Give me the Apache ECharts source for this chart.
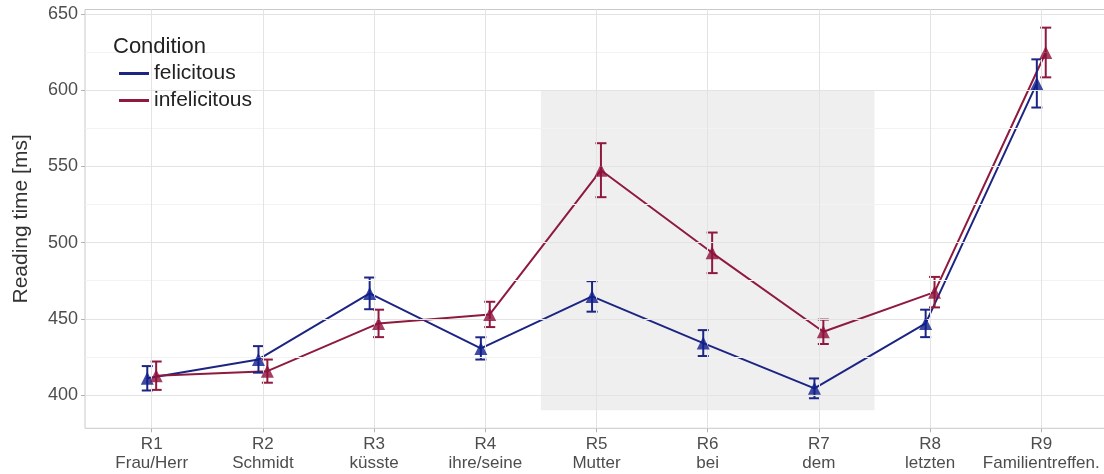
<!DOCTYPE html>
<html>
<head>
<meta charset="utf-8">
<script src="https://cdn.jsdelivr.net/npm/echarts@6/dist/echarts.min.js"></script>
<style>html,body{margin:0;padding:0;background:#fff}#c{width:1104px;height:474px}</style>
</head>
<body>
<div id="c"></div>
<script>
const regions = ['R1','R2','R3','R4','R5','R6','R7','R8','R9'];
const words = ['Frau/Herr','Schmidt','küsste','ihre/seine','Mutter','bei','dem','letzten','Familientreffen.'];
const felicitousMean = [411, 423.4, 466.7, 430.6, 464.7, 434.1, 404.4, 447, 604.4];
const felicitousSE = [8, 8.7, 10.4, 7.3, 10, 8.5, 6.5, 9, 15.8];
const infelicitousMean = [412.7, 415.7, 447, 452.9, 547.5, 493.3, 441.5, 467.5, 624.7];
const infelicitousSE = [9.3, 7.6, 9, 8.3, 17.7, 13.3, 8, 10, 16.3];
const yTicks = [400, 450, 500, 550, 600, 650];
const yMinor = [425, 475, 525, 575, 625];
const xTicks = [1, 2, 3, 4, 5, 6, 7, 8, 9];
const highlight = {x0: 4.5, x1: 7.5, y0: 390, y1: 600};

const dodge = 0.04;
const BLUE = '#1c2583';
const RED = '#8e1a3d';
const FONT = '"Liberation Sans", Arial, sans-serif';

function pts(means, off) { return means.map((m, i) => [xTicks[i] + off, m]); }
function bars(means, se, off) { return means.map((m, i) => [xTicks[i] + off, m - se[i], m + se[i]]); }

function errRender(color) {
  return function (params, api) {
    const x = api.value(0);
    const lo = api.coord([x, api.value(1)]);
    const hi = api.coord([x, api.value(2)]);
    const w = 5.5;
    const st = {stroke: color, lineWidth: 2};
    return {type: 'group', children: [
      {type: 'line', shape: {x1: lo[0], y1: lo[1], x2: hi[0], y2: hi[1]}, style: st},
      {type: 'line', shape: {x1: lo[0] - w, y1: lo[1], x2: lo[0] + w, y2: lo[1]}, style: st},
      {type: 'line', shape: {x1: hi[0] - w, y1: hi[1], x2: hi[0] + w, y2: hi[1]}, style: st}
    ]};
  };
}

const gridLineData = []
  .concat(yMinor.map(v => ({yAxis: v, lineStyle: {color: '#f3f3f3', width: 1, type: 'solid'}})))
  .concat(yTicks.map(v => ({yAxis: v, lineStyle: {color: '#e3e3e3', width: 1, type: 'solid'}})))
  .concat(xTicks.map(v => ({xAxis: v, lineStyle: {color: '#e3e3e3', width: 1, type: 'solid'}})));

const chart = echarts.init(document.getElementById('c'), null, {renderer: 'canvas'});
chart.setOption({
  animation: false,
  backgroundColor: '#ffffff',
  textStyle: {fontFamily: FONT},
  title: {text: 'Condition', left: 108, top: 31,
    textStyle: {fontFamily: FONT, fontSize: 22, fontWeight: 'normal', color: '#222'}},
  legend: {
    data: ['felicitous', 'infelicitous'],
    orient: 'vertical', left: 114, top: 58, itemGap: 6,
    icon: 'rect', itemWidth: 30, itemHeight: 3, itemTextGap: 10,
    textStyle: {fontFamily: FONT, fontSize: 21, color: '#222'}
  },
  grid: {left: 85, width: 1023, top: 9.5, bottom: 45.7, show: true,
    outerBoundsMode: 'none', containLabel: false,
    borderColor: '#c9c9c9', borderWidth: 1, backgroundColor: '#fff'},
  xAxis: {
    type: 'value', min: 0.4, max: 9.6,
    axisLine: {show: false},
    splitLine: {show: false},
    axisTick: {show: true, customValues: xTicks, length: 4, lineStyle: {color: '#b3b3b3'}},
    axisLabel: {customValues: xTicks, margin: 7, fontFamily: FONT, fontSize: 17, lineHeight: 19, color: '#4d4d4d',
      formatter: v => regions[Math.round(v) - 1] + '\n' + words[Math.round(v) - 1]}
  },
  yAxis: {
    type: 'value', min: 378.2, max: 652.9,
    name: 'Reading time [ms]', nameLocation: 'middle', nameGap: 53,
    nameTextStyle: {fontFamily: FONT, fontSize: 21, color: '#333'},
    axisLine: {show: false},
    splitLine: {show: false},
    axisTick: {show: true, customValues: yTicks, length: 4, lineStyle: {color: '#b3b3b3'}},
    axisLabel: {customValues: yTicks, margin: 7, fontFamily: FONT, fontSize: 18, color: '#4d4d4d'}
  },
  series: [
    {type: 'line', name: 'grid', data: [], z: 1, silent: true,
      markLine: {silent: true, symbol: 'none', label: {show: false}, data: gridLineData, animation: false}},
    {type: 'line', name: 'area', data: [], z: 1, silent: true,
      markArea: {silent: true, label: {show: false}, itemStyle: {color: 'rgba(120,120,120,0.12)', borderWidth: 0},
        data: [[{coord: [highlight.x0, highlight.y0]}, {coord: [highlight.x1, highlight.y1]}]]}},
    {type: 'line', name: 'felicitous', data: pts(felicitousMean, -dodge), z: 3,
      color: BLUE, lineStyle: {width: 2, color: BLUE}, symbol: 'none'},
    {type: 'line', name: 'infelicitous', data: pts(infelicitousMean, dodge), z: 3,
      color: RED, lineStyle: {width: 2, color: RED}, symbol: 'none'},
    {type: 'custom', name: 'felicitous', data: bars(felicitousMean, felicitousSE, -dodge), z: 4,
      color: BLUE, renderItem: errRender(BLUE), encode: {x: 0, y: [1, 2]}},
    {type: 'custom', name: 'infelicitous', data: bars(infelicitousMean, infelicitousSE, dodge), z: 4,
      color: RED, renderItem: errRender(RED), encode: {x: 0, y: [1, 2]}},
    {type: 'scatter', name: 'felicitous', data: pts(felicitousMean, -dodge), z: 5,
      symbol: 'triangle', symbolSize: 13, itemStyle: {color: '#0f1e8c'}},
    {type: 'scatter', name: 'infelicitous', data: pts(infelicitousMean, dodge), z: 5,
      symbol: 'triangle', symbolSize: 13, itemStyle: {color: '#8e0f3a'}}
  ]
});
</script>
</body>
</html>
